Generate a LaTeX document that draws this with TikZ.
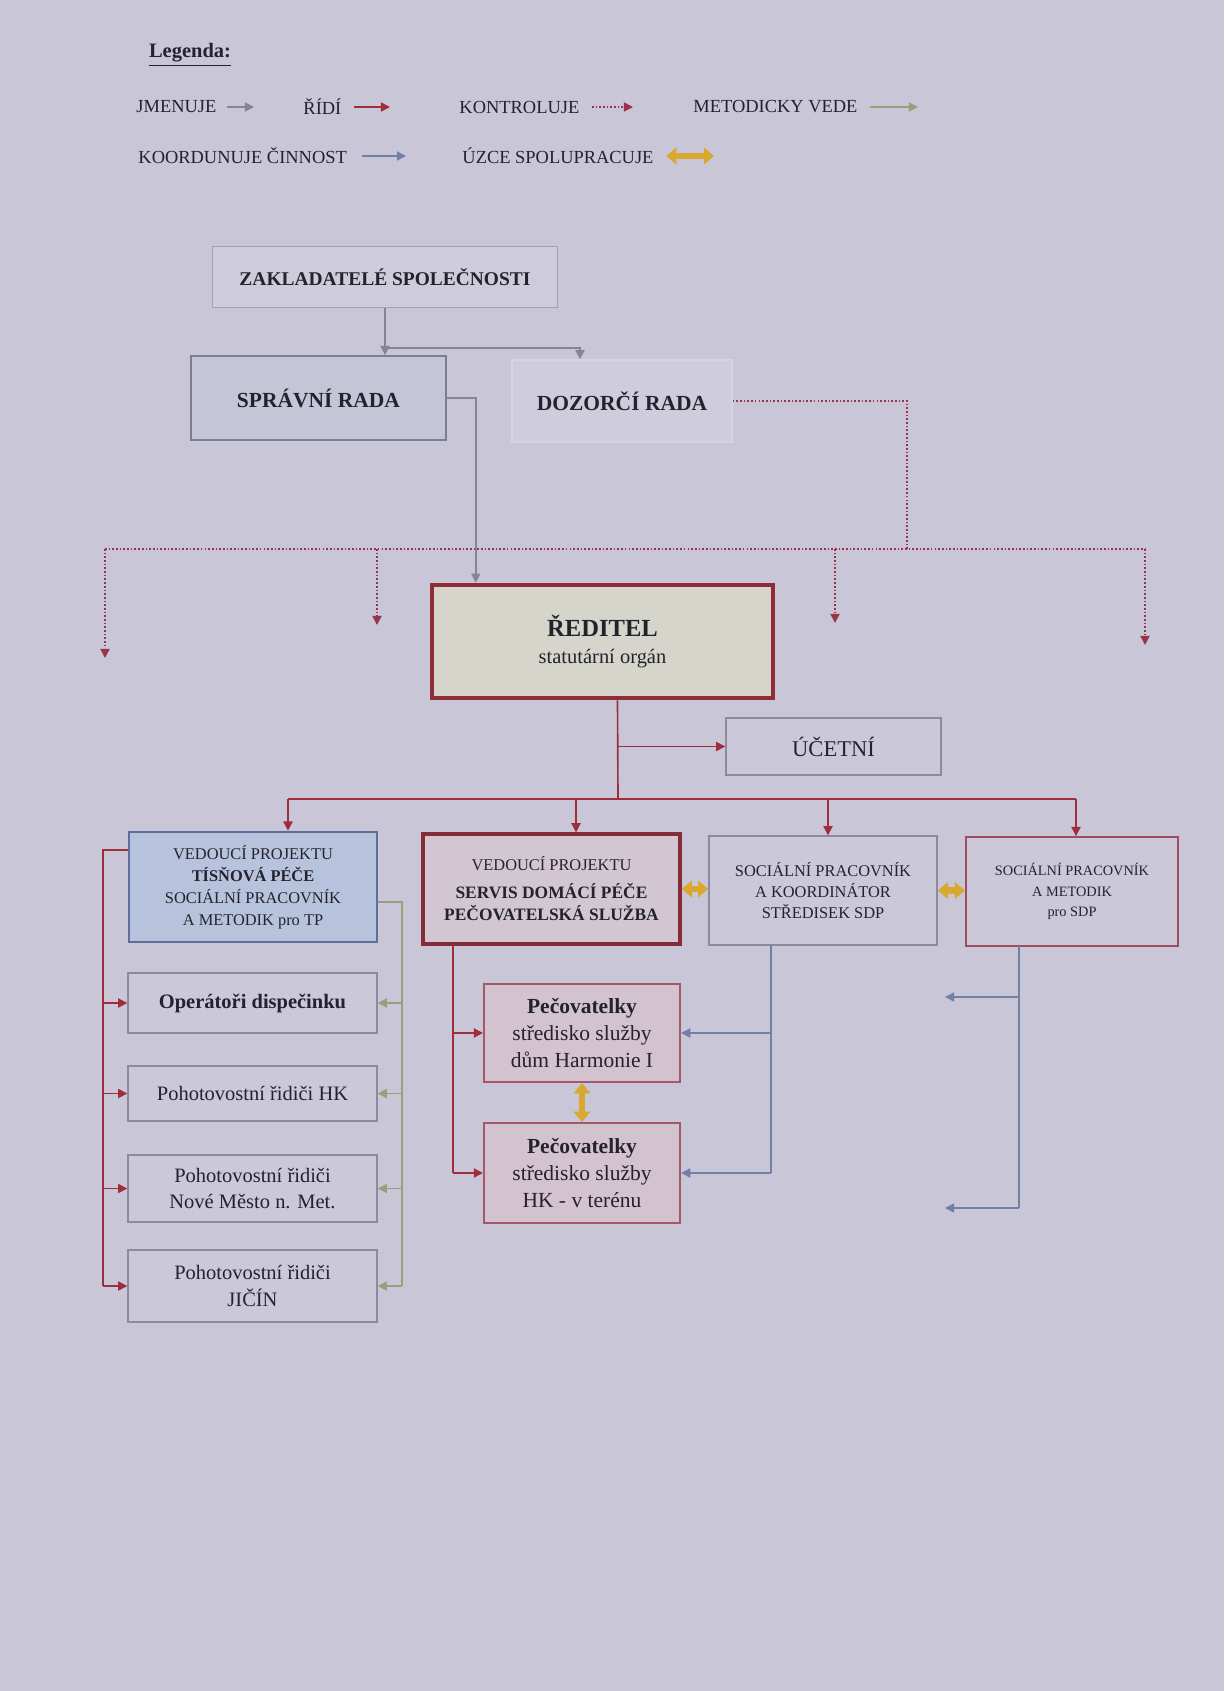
\documentclass[tikz,border=0pt]{standalone}
\usepackage{fontspec}
\setmainfont{Liberation Serif}
\usepackage{tikz}
\usetikzlibrary{arrows.meta}

\definecolor{paper}{HTML}{C9C6D7}
\definecolor{ink}{HTML}{24222C}
\definecolor{greyline}{HTML}{8C8B9E}
\definecolor{greyfill}{HTML}{CBC9D9}
\definecolor{zakline}{HTML}{A3A1B2}
\definecolor{zakfill}{HTML}{CECBDA}
\definecolor{sprline}{HTML}{7D7E8F}
\definecolor{sprfill}{HTML}{C4C6D7}
\definecolor{dozline}{HTML}{D6D4DF}
\definecolor{dozfill}{HTML}{CFCDDB}
\definecolor{redline}{HTML}{8E2C37}
\definecolor{redfill}{HTML}{D6D5CB}
\definecolor{tpline}{HTML}{5C6E99}
\definecolor{tpfill}{HTML}{B7C3DD}
\definecolor{servline}{HTML}{872B38}
\definecolor{servfill}{HTML}{D1C6D2}
\definecolor{metline}{HTML}{9E4C5E}
\definecolor{pecline}{HTML}{A4596B}
\definecolor{pecfill}{HTML}{D3C3CF}
\definecolor{jmgrey}{HTML}{868595}
\definecolor{ridred}{HTML}{9E2E3C}
\definecolor{ktred}{HTML}{9A3446}
\definecolor{mvgreen}{HTML}{93A27A}
\definecolor{kcblue}{HTML}{7080A6}
\definecolor{coopgold}{HTML}{D9A82E}

\newcommand{\pxu}{0.1716mm}

\begin{document}
\begin{tikzpicture}[x=0.1716mm, y=-0.1716mm,
  >={Triangle[length=4.5pt,width=4.5pt]},
  box/.style={draw=greyline, fill=greyfill, line width=0.7pt, align=center, text=ink, inner sep=1pt},
  boxsize/.style 2 args={minimum width=#1*\pxu, minimum height=#2*\pxu},
  lgd/.style={text=ink, font=\fontsize{9}{11}\selectfont, anchor=west, inner sep=1pt},
  appoint/.style={draw=jmgrey, line width=0.8pt},
  lead/.style={draw=ridred, line width=0.8pt},
  control/.style={draw=ktred, line width=0.8pt, densely dotted},
  method/.style={draw=mvgreen, line width=0.8pt},
  linkblue/.style={draw=kcblue, line width=0.8pt},
  coop/.style={{Triangle[length=5pt,width=8pt]}-{Triangle[length=5pt,width=8pt]}, draw=coopgold, line width=3pt}]
\useasboundingbox (0,0) rectangle (1224,1691);
\fill[paper] (0,0) rectangle (1224,1691);

% legend
\node[text=ink, font=\fontsize{10}{12}\selectfont\bfseries] (lgtitle) at (190,55) {\underline{Legenda:}};
\node[lgd] (lgjm) at (134,107) {JMENUJE};
\node[lgd] (lgri) at (301,107) {ŘÍDÍ};
\node[lgd] (lgkt) at (457,107) {KONTROLUJE};
\node[lgd] (lgmv) at (691,107) {METODICKY VEDE};
\node[lgd] (lgkc) at (136,156) {KOORDUNUJE ČINNOST};
\node[lgd] (lgus) at (460,156) {ÚZCE SPOLUPRACUJE};
\coordinate (lgjmE) at (254,107);
\coordinate (lgriE) at (390,107);
\coordinate (lgktE) at (633,107);
\coordinate (lgmvE) at (918,107);
\coordinate (lgkcE) at (406,156);
\coordinate (lgusE) at (714,156);
\draw[appoint,->,shorten <=4pt] (lgjm) -- (lgjmE);
\draw[lead,->,shorten <=5pt] (lgri) -- (lgriE);
\draw[control,->,shorten <=5pt] (lgkt) -- (lgktE);
\draw[method,->,shorten <=5pt] (lgmv) -- (lgmvE);
\draw[linkblue,->,shorten <=6pt] (lgkc) -- (lgkcE);
\draw[coop,line width=2.5pt,shorten <=5pt] (lgus) -- (lgusE);

% boards
\node[box, boxsize={345}{61}, draw=zakline, fill=zakfill, font=\fontsize{9.5}{11}\selectfont\bfseries] (zak) at (385,277) {ZAKLADATELÉ SPOLEČNOSTI};
\node[box, boxsize={255}{84}, draw=sprline, fill=sprfill, line width=0.9pt, font=\fontsize{10.5}{12}\selectfont\bfseries] (spr) at (318.5,398) {SPRÁVNÍ RADA};
\node[box, boxsize={220}{82}, draw=dozline, fill=dozfill, font=\fontsize{10.5}{12}\selectfont\bfseries] (doz) at (622,401) {DOZORČÍ RADA};

% director
\node[box, boxsize={341}{113}, draw=redline, fill=redfill, line width=2.2pt] (red) at (602.5,641.5) {{\fontsize{12}{14}\selectfont\bfseries ŘEDITEL}\\[1pt]{\fontsize{10}{12}\selectfont statutární orgán}};
\node[box, boxsize={215}{57}, font=\fontsize{11}{13}\selectfont] (ucet) at (833.5,746.5) {ÚČETNÍ};

% projects
\node[box, boxsize={248}{110}, draw=tpline, fill=tpfill, line width=1.3pt, font=\fontsize{8}{10.7}\selectfont] (tp) at (253,887) {VEDOUCÍ PROJEKTU\\\textbf{TÍSŇOVÁ PÉČE}\\SOCIÁLNÍ PRACOVNÍK\\A METODIK pro TP};
\node[box, boxsize={257}{110}, draw=servline, fill=servfill, line width=1.6pt, font=\fontsize{8.5}{10.7}\selectfont] (serv) at (551.5,889) {{\fontsize{8}{10}\selectfont VEDOUCÍ PROJEKTU}\\[3pt]\textbf{SERVIS DOMÁCÍ PÉČE}\\\textbf{PEČOVATELSKÁ SLUŽBA}};
\node[box, boxsize={228}{109}, font=\fontsize{8}{10.2}\selectfont] (koord) at (823,890.5) {SOCIÁLNÍ PRACOVNÍK\\A KOORDINÁTOR\\STŘEDISEK SDP};
\node[box, boxsize={212}{109}, draw=metline, line width=0.9pt, font=\fontsize{7}{10}\selectfont] (metod) at (1072,891.5) {SOCIÁLNÍ PRACOVNÍK\\A METODIK\\pro SDP};

% left column
\node[box, boxsize={249}{60}, font=\fontsize{10}{13}\selectfont\bfseries] (op) at (252.5,1003) {Operátoři dispečinku};
\node[box, boxsize={249}{55}, font=\fontsize{10}{13}\selectfont] (hk) at (252.5,1093.5) {Pohotovostní řidiči HK};
\node[box, boxsize={249}{67}, font=\fontsize{10}{13}\selectfont] (nm) at (252.5,1188.5) {Pohotovostní řidiči\\Nové Město n. Met.};
\node[box, boxsize={249}{72}, font=\fontsize{10}{13}\selectfont] (jic) at (252.5,1286) {Pohotovostní řidiči\\JIČÍN};

% care workers
\node[box, boxsize={196}{98}, draw=pecline, fill=pecfill, line width=1pt, font=\fontsize{10.5}{13}\selectfont] (pec1) at (582,1033) {\textbf{Pečovatelky}\\středisko služby\\dům Harmonie I};
\node[box, boxsize={196}{100}, draw=pecline, fill=pecfill, line width=1pt, font=\fontsize{10.5}{13}\selectfont] (pec2) at (582,1173) {\textbf{Pečovatelky}\\středisko služby\\HK - v terénu};

% appointing
\coordinate (zsplit) at (385,348);
\draw[appoint,->] (zak.south) -- (zak.south |- spr.north);
\draw[appoint,->] (zsplit) -| ([xshift=-42*\pxu]doz.north);
\draw[appoint,->] (spr.east) -| ([xshift=46*\pxu]red.north west);

% control
\coordinate (kbus) at (907,549);
\coordinate (k1) at (105,658);
\coordinate (k2) at (377,625);
\coordinate (k3) at (835,623);
\coordinate (k4) at (1145,645);
\draw[control] (doz.east) -| (kbus);
\draw[control] (k1 |- kbus) -- (k4 |- kbus);
\foreach \k in {k1,k2,k3,k4}
  \draw[control,->] (\k |- kbus) -- (\k);

% director leads
\coordinate (rbus) at (618,799);
\coordinate (r1) at (288,799);
\coordinate (r2) at (576,799);
\coordinate (r3) at (828,799);
\coordinate (r4) at (1076,799);
\draw[lead] ([xshift=15*\pxu]red.south) -- (rbus);
\draw[lead,->] (rbus |- ucet.west) -- (ucet.west);
\draw[lead] (r1) -- (r4);
\foreach \r/\b in {r1/tp, r2/serv, r3/koord, r4/metod}
  \draw[lead,->] (\r) -- (\r |- \b.north);

% close cooperation
\draw[coop] (serv.east) -- (serv.east -| koord.west);
\draw[coop] (koord.east) -- (koord.east -| metod.west);
\draw[coop] (pec1.south) -- (pec2.north);

% emergency care
\coordinate (lrail) at (103,850);
\coordinate (grail) at (402,902);
\draw[lead] (lrail -| tp.west) -- (lrail) -- (lrail |- jic.west);
\draw[method] (grail -| tp.east) -- (grail) -- (grail |- jic.east);
\foreach \b in {op,hk,nm,jic} {
  \draw[lead,->] (lrail |- \b.west) -- (\b.west);
  \draw[method,->] (grail |- \b.east) -- (\b.east);
}

% home care
\coordinate (srail) at (453,944);
\coordinate (krail) at (771,945);
\draw[lead] (srail) -- (srail |- pec2.west);
\draw[linkblue] (krail) -- (krail |- pec2.east);
\foreach \p in {pec1,pec2} {
  \draw[lead,->] (srail |- \p.west) -- (\p.west);
  \draw[linkblue,->] (krail |- \p.east) -- (\p.east);
}
\coordinate (mrail) at (1019,946);
\coordinate (mfree1) at (945,997);
\coordinate (mfree2) at (945,1208);
\draw[linkblue] (mrail) -- (mrail |- mfree2);
\foreach \m in {mfree1,mfree2}
  \draw[linkblue,->] (mrail |- \m) -- (\m);
\end{tikzpicture}
\end{document}
